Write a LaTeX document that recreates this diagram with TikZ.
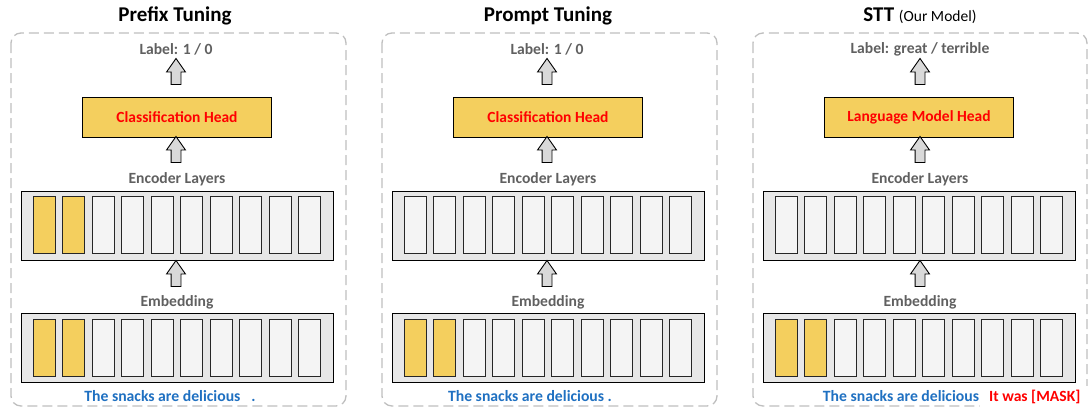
\documentclass[tikz,border=0pt]{standalone}
\usepackage{fontspec}
\setmainfont{Carlito}
\usetikzlibrary{shapes.arrows,positioning,calc}

\definecolor{headyellow}{HTML}{F4CF5E}
\definecolor{boxgray}{HTML}{E7E7E7}
\definecolor{cellwhite}{HTML}{F4F4F4}
\definecolor{txtgray}{HTML}{606060}
\definecolor{sentblue}{HTML}{1F70C1}
\definecolor{dashgray}{HTML}{BFBFBF}
\definecolor{arrowgray}{HTML}{D9D9D9}

\tikzset{
  panelbox/.style={draw=dashgray, line width=1.3pt, dash pattern=on 10pt off 5pt, rounded corners=10pt},
  paneltitle/.style={font=\bfseries\fontsize{21}{23}\selectfont, inner sep=0},
  graylabel/.style={font=\bfseries\fontsize{15.6}{17}\selectfont, text=txtgray, inner sep=0},
  headbox/.style={draw, line width=0.8pt, fill=headyellow, minimum width=189pt, minimum height=40pt,
    font=\bfseries\fontsize{15.5}{17}\selectfont, text=red, inner sep=0},
  layerbox/.style={draw, line width=0.8pt, fill=boxgray, minimum width=312pt, minimum height=69pt, inner sep=0},
  cell/.style={draw=black!85, line width=0.7pt, fill=cellwhite, minimum width=22pt, minimum height=57pt, inner sep=0},
  prefixcell/.style={cell, fill=headyellow},
  uparrow/.style={single arrow, draw, line width=0.9pt, fill=arrowgray, rotate=90, minimum height=26pt,
    inner xsep=0pt, inner ysep=4.5pt, single arrow head extend=4.5pt, single arrow tip angle=70},
  sentence/.style={font=\bfseries\fontsize{15.7}{17}\selectfont, text=sentblue, inner sep=0},
}

\begin{document}
\begin{tikzpicture}[x=1pt, y=-1pt]
    \useasboundingbox (0,0) rectangle (1088,408);

    % Prefix Tuning
    \begin{scope}[xshift=177pt]
        \draw[panelbox] (-166,33) rectangle (169,406);
        \node[paneltitle] (title1) at (-2,16) {Prefix Tuning};
        \node[graylabel] (label1) at (-1,49) {Label: 1 / 0};
        \node[uparrow] (up1a) at (-1,75) {};
        \node[headbox] (head1) at (0,117) {Classification Head};
        \node[uparrow] (up1b) at (-1,153) {};
        \node[graylabel] (encname1) at (0,179) {Encoder Layers};
        \node[layerbox] (enc1) at (0,225.5) {};
        \foreach \i in {0,...,9}
            \node[cell] (enc1c\i) at (-133+29.5*\i,225) {};
        \foreach \i in {0,1}
            \node[prefixcell] at (enc1c\i) {};
        \node[uparrow] (up1c) at (-1,277) {};
        \node[graylabel] (embname1) at (0,302) {Embedding};
        \node[layerbox] (emb1) at (0,348) {};
        \foreach \i in {0,...,9}
            \node[cell] (emb1c\i) at (-133+29.5*\i,348) {};
        \foreach \i in {0,1}
            \node[prefixcell] at (emb1c\i) {};
        \node[sentence] (sent1) at (-7,396) {The snacks are delicious\hspace*{11pt}.};
    \end{scope}

    % Prompt Tuning
    \begin{scope}[xshift=548pt]
        \draw[panelbox] (-166,33) rectangle (169,406);
        \node[paneltitle] (title2) at (0,16) {Prompt Tuning};
        \node[graylabel] (label2) at (-1,49) {Label: 1 / 0};
        \node[uparrow] (up2a) at (-1,75) {};
        \node[headbox] (head2) at (0,117) {Classification Head};
        \node[uparrow] (up2b) at (-1,153) {};
        \node[graylabel] (encname2) at (0,179) {Encoder Layers};
        \node[layerbox] (enc2) at (0,225.5) {};
        \foreach \i in {0,...,9}
            \node[cell] (enc2c\i) at (-133+29.5*\i,225) {};
        \node[uparrow] (up2c) at (-1,277) {};
        \node[graylabel] (embname2) at (0,302) {Embedding};
        \node[layerbox] (emb2) at (0,348) {};
        \foreach \i in {0,...,9}
            \node[cell] (emb2c\i) at (-133+29.5*\i,348) {};
        \foreach \i in {0,1}
            \node[prefixcell] at (emb2c\i) {};
        \node[sentence] (sent2) at (-18,396) {The snacks are delicious .};
    \end{scope}

    % STT (Our Model)
    \begin{scope}[xshift=919pt]
        \draw[panelbox] (-166,33) rectangle (168,406);
        \node[paneltitle] (title3) at (1,16) {STT {\mdseries\fontsize{15.5}{17}\selectfont(Our Model)}};
        \node[graylabel] (label3) at (1,49) {Label: great / terrible};
        \node[uparrow] (up3a) at (1,75) {};
        \node[headbox] (head3) at (0,117) {Language Model Head};
        \node[uparrow] (up3b) at (1,153) {};
        \node[graylabel] (encname3) at (1,179) {Encoder Layers};
        \node[layerbox] (enc3) at (0,225.5) {};
        \foreach \i in {0,...,9}
            \node[cell] (enc3c\i) at (-133+29.5*\i,225) {};
        \node[uparrow] (up3c) at (1,277) {};
        \node[graylabel] (embname3) at (1,302) {Embedding};
        \node[layerbox] (emb3) at (0,348) {};
        \foreach \i in {0,...,9}
            \node[cell] (emb3c\i) at (-133+29.5*\i,348) {};
        \foreach \i in {0,1}
            \node[prefixcell] at (emb3c\i) {};
        \node[sentence] (sent3) at (-18,396) {The snacks are delicious};
        \node[fill=white, font=\bfseries\fontsize{15.6}{17}\selectfont, text=red, inner xsep=9pt,
              minimum height=22pt, anchor=west] (mask3) at (61,397) {It was [MASK]};
    \end{scope}
\end{tikzpicture}
\end{document}
